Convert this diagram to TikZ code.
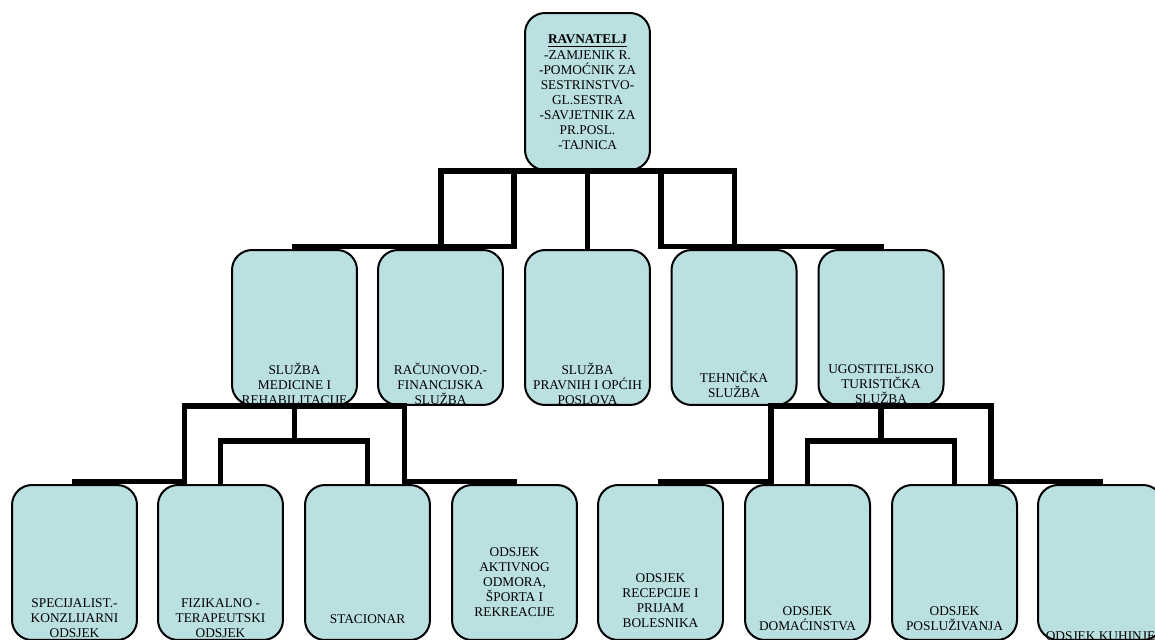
\documentclass[tikz,border=0pt]{standalone}
\usepackage{fontspec}
\setmainfont{Liberation Serif}
\usetikzlibrary{calc}
\definecolor{boxfill}{RGB}{186,224,226}
\tikzset{
  box/.style={draw=black,line width=0.04cm,fill=boxfill,rounded corners=0.4cm,
    minimum width=2.5cm,minimum height=3.1cm,inner sep=0pt},
  txt/.style={align=center,inner sep=0pt,font=\fontsize{7.6}{8.6}\selectfont},
  conn/.style={line width=0.11cm}
}
\begin{document}
\begin{tikzpicture}[x=0.02cm,y=-0.02cm]
    \useasboundingbox (0,0) rectangle (1155,639);
    % boxes
    \node[box,minimum height=3.14cm] (rav) at (587.5,91.5) {};
    \node[box] (med) at (294.5,327.5) {};
    \node[box] (rac) at (440.5,327.5) {};
    \node[box] (prav) at (587.5,327.5) {};
    \node[box] (teh) at (734,327.5) {};
    \node[box] (ugo) at (881,327.5) {};
    \node[box] (spec) at (74.5,562.5) {};
    \node[box] (fiz) at (220.5,562.5) {};
    \node[box] (stac) at (367.5,562.5) {};
    \node[box] (akt) at (514.5,562.5) {};
    \node[box] (rec) at (660.5,562.5) {};
    \node[box] (dom) at (807.5,562.5) {};
    \node[box] (posl) at (954.5,562.5) {};
    \node[box] (kuh) at (1100.5,562.5) {};
    % texts
    \node[txt] (trav) at (587.5,92.5) {\underline{\textbf{RAVNATELJ}}\\-ZAMJENIK R.\\-POMOĆNIK ZA\\SESTRINSTVO-\\GL.SESTRA\\-SAVJETNIK ZA\\PR.POSL.\\-TAJNICA};
    \node[txt] (tmed) at (294.5,384) {SLUŽBA\\MEDICINE I\\REHABILITACIJE};
    \node[txt] (trac) at (440.5,384) {RAČUNOVOD.-\\FINANCIJSKA\\SLUŽBA};
    \node[txt] (tprav) at (587.5,384) {SLUŽBA\\PRAVNIH I OPĆIH\\POSLOVA};
    \node[txt] (tteh) at (734,384) {TEHNIČKA\\SLUŽBA};
    \node[txt] (tugo) at (881,384) {UGOSTITELJSKO\\TURISTIČKA\\SLUŽBA};
    \node[txt] (tspec) at (74.5,618.5) {SPECIJALIST.-\\KONZLIJARNI\\ODSJEK};
    \node[txt] (tfiz) at (220.5,618.5) {FIZIKALNO -\\TERAPEUTSKI\\ODSJEK};
    \node[txt] (tstac) at (367.5,619) {STACIONAR};
    \node[txt] (takt) at (514.5,582) {ODSJEK\\AKTIVNOG\\ODMORA,\\ŠPORTA I\\REKREACIJE};
    \node[txt] (trec) at (660.5,600.5) {ODSJEK\\RECEPCIJE I\\PRIJAM\\BOLESNIKA};
    \node[txt] (tdom) at (807.5,619) {ODSJEK\\DOMAĆINSTVA};
    \node[txt] (tposl) at (954.5,618.5) {ODSJEK\\POSLUŽIVANJA};
    \node[txt] (tkuh) at (1100.5,636) {ODSJEK KUHINJE};
    % connectors
    \draw[conn] (rav.south) -| ($(rav.south)!.5!(med.north)$) |- ([yshift=0.055cm]med.north) -- (med.north);
    \draw[conn] (rav.south) -| ($(rav.south)!.5!(rac.north)$) |- ([yshift=0.055cm]rac.north) -- (rac.north);
    \draw[conn] (rav.south) -- (prav.north);
    \draw[conn] (rav.south) -| ($(rav.south)!.5!(teh.north)$) |- ([yshift=0.055cm]teh.north) -- (teh.north);
    \draw[conn] (rav.south) -| ($(rav.south)!.5!(ugo.north)$) |- ([yshift=0.055cm]ugo.north) -- (ugo.north);
    \draw[conn] (med.south) -| ($(med.south)!.5!(spec.north)$) |- ([yshift=0.055cm]spec.north) -- (spec.north);
    \draw[conn] (med.south) |- ($(med.south)!.45!(fiz.north)$) -| (fiz.north);
    \draw[conn] (med.south) |- ($(med.south)!.45!(stac.north)$) -| (stac.north);
    \draw[conn] (med.south) -| ($(med.south)!.5!(akt.north)$) |- ([yshift=0.055cm]akt.north) -- (akt.north);
    \draw[conn] (ugo.south) -| ($(ugo.south)!.5!(rec.north)$) |- ([yshift=0.055cm]rec.north) -- (rec.north);
    \draw[conn] (ugo.south) |- ($(ugo.south)!.45!(dom.north)$) -| (dom.north);
    \draw[conn] (ugo.south) |- ($(ugo.south)!.45!(posl.north)$) -| (posl.north);
    \draw[conn] (ugo.south) -| ($(ugo.south)!.5!(kuh.north)$) |- ([yshift=0.055cm]kuh.north) -- (kuh.north);
\end{tikzpicture}
\end{document}
